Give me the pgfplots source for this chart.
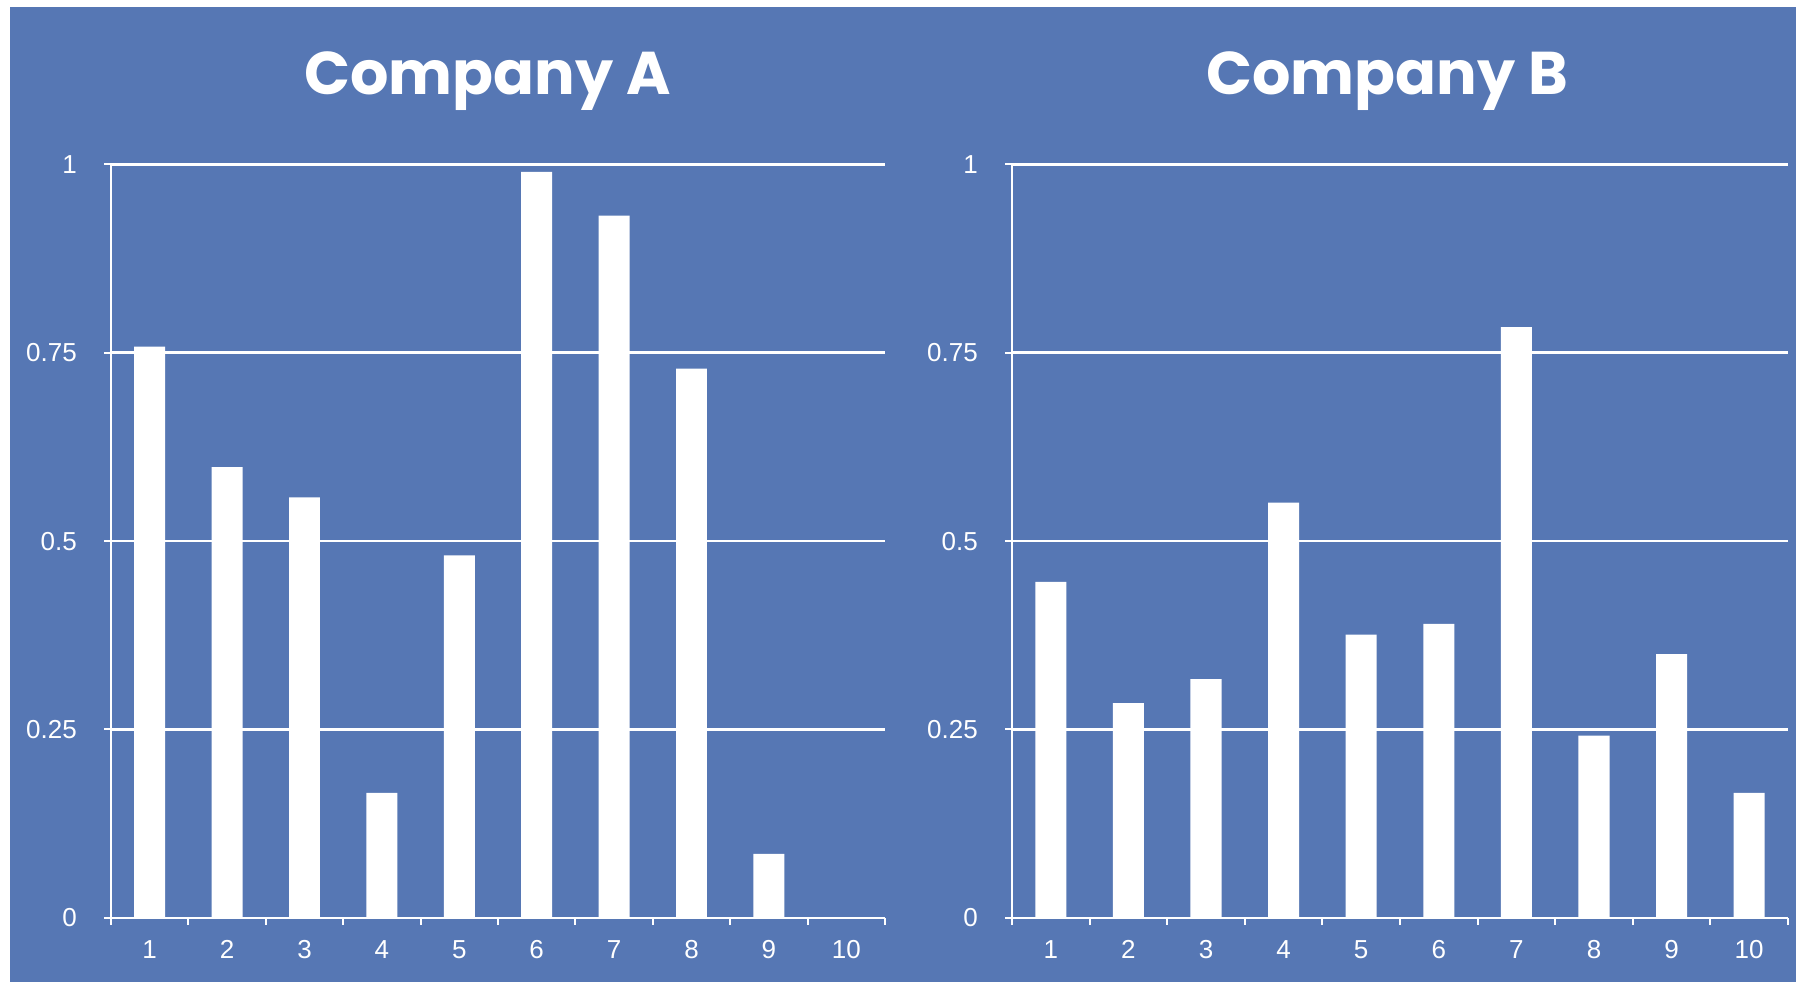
\documentclass[border=0pt]{standalone}
\usepackage{pgfplots}
\pgfplotsset{compat=1.18}
\usepackage{fontspec}
\setmainfont{Liberation Sans}
\newfontfamily\titlefont{Poppins}
\definecolor{bgblue}{RGB}{86,119,180}

\pgfplotsset{
  compstyle/.style={
    scale only axis,
    anchor=south west,
    height=226.08pt,
    xmin=0.5, xmax=10.5, ymin=0, ymax=1,
    axis lines*=left,
    axis line style={white, line width=0.6pt},
    ytick={0,0.25,0.5,0.75,1},
    yticklabels={0,0.25,0.5,0.75,1},
    ymajorgrids,
    grid style={white, line width=0.8pt},
    xtick={1,...,10},
    minor xtick={0.5,1.5,...,10.5},
    every major x tick/.append style={draw=none},
    tick align=outside,
    major tick length=2.1pt,
    minor tick length=2.1pt,
    tick style={white, line width=0.6pt},
    ticklabel style={font=\fontsize{7.8}{9}\selectfont, text=white, inner sep=0pt},
    yticklabel style={anchor=east, xshift=-7.95pt},
    xticklabel style={anchor=north, yshift=-4.5pt},
    /pgf/number format/assume math mode=true,
    ybar,
    bar width=0.4,
    bar shift=0pt,
  }
}

\begin{document}
\begin{tikzpicture}
\fill[white] (0,0) rectangle (538.8pt,294.6pt);
\path[use as bounding box] (0,0) rectangle (538.8pt,294.6pt);
\fill[bgblue] (3pt,0) rectangle (538.8pt,292.5pt);

\begin{axis}[compstyle, at={(33.3pt,19.23pt)}, width=232.2pt]
\addplot[fill=white, draw=none] coordinates {
(1,0.758) (2,0.598) (3,0.558) (4,0.166) (5,0.481) (6,0.990) (7,0.932) (8,0.729) (9,0.085) (10,0)
};
\end{axis}

\begin{axis}[compstyle, at={(303.6pt,19.23pt)}, width=232.8pt]
\addplot[fill=white, draw=none] coordinates {
(1,0.446) (2,0.285) (3,0.317) (4,0.551) (5,0.376) (6,0.390) (7,0.784) (8,0.242) (9,0.350) (10,0.166)
};
\end{axis}

\node[anchor=base, text=white, inner sep=0pt, font=\titlefont\bfseries\fontsize{18.1}{21}\selectfont] at (146.25pt,266.1pt) {Company A};
\node[anchor=base, text=white, inner sep=0pt, font=\titlefont\bfseries\fontsize{18.1}{21}\selectfont] at (416.1pt,266.1pt) {Company B};
\end{tikzpicture}
\end{document}
